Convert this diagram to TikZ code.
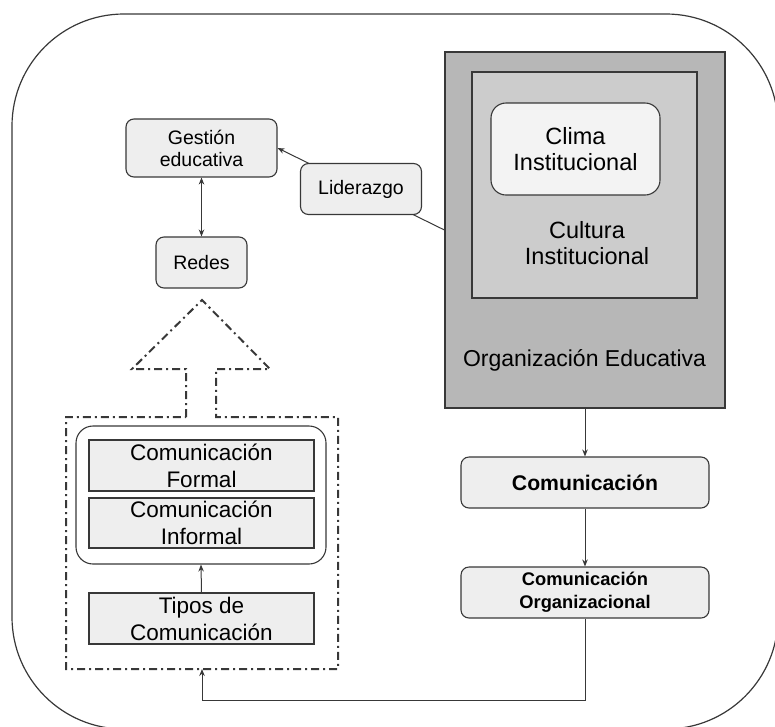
\documentclass[tikz,border=0pt]{standalone}
\usepackage{fontspec}
\setmainfont{Liberation Sans}
\usetikzlibrary{arrows.meta}
\definecolor{lightbox}{HTML}{EEEEEE}
\definecolor{orggray}{HTML}{B7B7B7}
\definecolor{culgray}{HTML}{CCCCCC}
\definecolor{climabg}{HTML}{F3F3F3}
\definecolor{edge}{HTML}{383838}
\tikzset{
  base/.style={draw=edge, line width=1.1pt, inner sep=0pt, align=center, text=black},
  roundbox/.style={base, fill=lightbox, rounded corners=8pt},
  sqbox/.style={base, fill=lightbox},
  conn/.style={draw=edge, line width=1pt, -{Stealth[length=7pt,width=5.5pt]}},
  dconn/.style={draw=edge, line width=1pt, {Stealth[length=7pt,width=5.5pt]}-{Stealth[length=7pt,width=5.5pt]}},
  dashdot/.style={draw=edge, line width=2pt, dash pattern=on 8pt off 4pt on 2pt off 4pt},
  fsmall/.style={font=\fontsize{19.5}{22}\selectfont},
  fmid/.style={font=\fontsize{22.5}{27}\selectfont},
  fbig/.style={font=\fontsize{23.5}{26}\selectfont},
}
\begin{document}
\begin{tikzpicture}[x=1pt,y=-1pt]
\useasboundingbox (0,0) rectangle (775,726);
\begin{scope}
\clip (0,0) rectangle (775,726);
\draw[draw=edge, line width=1.2pt, rounded corners=112pt] (12,14) rectangle (778,729);
\end{scope}

% left column
\node[roundbox, fsmall, minimum width=151pt, minimum height=58pt] (gest) at (201.5,148) {Gestión\\educativa};
\node[roundbox, fsmall, minimum width=91pt, minimum height=51pt] (redes) at (201.5,262.5) {Redes};
\draw[dconn] (gest.south) -- (redes.north);

% organisation block
\node[base, fill=orggray, rounded corners=0pt, minimum width=280pt, minimum height=356pt] (org) at (585,230) {};
\node[base, fill=culgray, minimum width=225pt, minimum height=226pt] (cult) at (584.5,185) {};
\node[base, fill=climabg, rounded corners=15pt, fbig, minimum width=169pt, minimum height=92pt] (clima) at (575.5,149) {Clima\\Institucional};
\node[fbig, align=center, inner sep=0pt] (culttext) at (587,243) {Cultura\\Institucional};
\node[font=\fontsize{23}{26}\selectfont, inner sep=0pt, anchor=base] (orgtext) at (584.5,366) {Organización Educativa};

\draw[conn] (org.west) -- node[roundbox, fsmall, minimum width=121pt, minimum height=51pt] (lid) {Liderazgo} (gest.east);

% right column
\node[roundbox, font=\fontsize{21.2}{24}\selectfont\bfseries, minimum width=248pt, minimum height=51pt] (com) at (585,482.5) {Comunicación};
\node[roundbox, font=\fontsize{18.3}{23}\selectfont\bfseries, minimum width=248pt, minimum height=51pt] (comorg) at (585,592.5) {Comunicación\\Organizacional};
\draw[conn] (org.south) -- (com.north);
\draw[conn] (com.south) -- (comorg.north);

% dash-dot block arrow
\draw[dashdot] (186,417) -- (186,369) -- (132,369) -- (202,300) -- (270,369) -- (216,369) -- (216,417)
  -- (338,417) -- (338,669) -- (66,669) -- (66,417) -- cycle;
\coordinate (dashbot) at (202,669);
\coordinate (turn) at (202,700);

\node[base, fill=white, rounded corners=17pt, minimum width=250pt, minimum height=138pt] (types) at (201,495) {};
\node[sqbox, fmid, minimum width=225pt, minimum height=51pt] (formal) at (201.5,465.5) {Comunicación\\Formal};
\node[sqbox, fmid, minimum width=225pt, minimum height=50pt] (informal) at (201.5,523) {Comunicación\\Informal};
\node[sqbox, fmid, minimum width=225pt, minimum height=51pt] (tipos) at (201.5,618.5) {Tipos de\\Comunicación};
\draw[conn] (tipos.north) -- (types.south);

\draw[conn] (comorg.south) |- (turn) -- (dashbot);
\end{tikzpicture}
\end{document}
